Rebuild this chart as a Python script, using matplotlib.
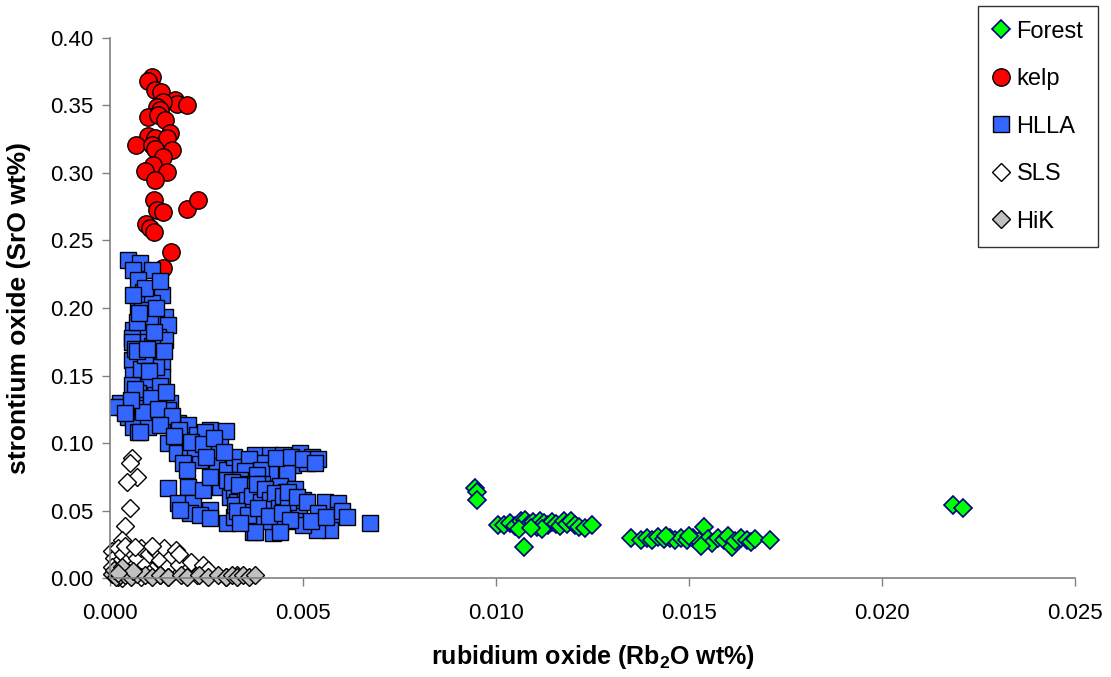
import numpy as np
from matplotlib import pyplot as plt

plt.rcParams['font.family'] = ['Liberation Sans', 'DejaVu Sans']

# ---- data (Rb2O wt%, SrO wt%) ----
forest_x = [0.00946, 0.00951, 0.00951,
            0.01005, 0.01020, 0.01035, 0.01050, 0.01065, 0.01075, 0.01085, 0.01095,
            0.01105, 0.01115, 0.01125, 0.01135, 0.01145, 0.01155, 0.01165, 0.01175,
            0.01185, 0.01195, 0.01205, 0.01215, 0.01230, 0.01250, 0.01072, 0.01060,
            0.01120, 0.01090,
            0.01350, 0.01375, 0.01390, 0.01405, 0.01420, 0.01435, 0.01450, 0.01465,
            0.01480, 0.01495, 0.01510, 0.01525, 0.01540, 0.01550, 0.01560, 0.01575,
            0.01590, 0.01600, 0.01612, 0.01620, 0.01635, 0.01650, 0.01660, 0.01670,
            0.01710, 0.01530, 0.01440, 0.01500,
            0.02185, 0.02210]
forest_y = [0.0667, 0.0640, 0.0580,
            0.0390, 0.0395, 0.0410, 0.0385, 0.0420, 0.0430, 0.0400, 0.0415,
            0.0380, 0.0420, 0.0405, 0.0390, 0.0415, 0.0400, 0.0385, 0.0420,
            0.0400, 0.0425, 0.0395, 0.0380, 0.0370, 0.0390, 0.0230, 0.0360,
            0.0360, 0.0370,
            0.0295, 0.0280, 0.0300, 0.0285, 0.0305, 0.0290, 0.0300, 0.0280,
            0.0295, 0.0285, 0.0300, 0.0275, 0.0380, 0.0290, 0.0260, 0.0300,
            0.0285, 0.0310, 0.0230, 0.0275, 0.0300, 0.0285, 0.0270, 0.0290,
            0.0285, 0.0240, 0.0310, 0.0310,
            0.0540, 0.0520]

kelp_x = [0.00108, 0.00099, 0.00117, 0.00132, 0.00168, 0.00174, 0.00199, 0.00138,
          0.00121, 0.00130, 0.00098, 0.00125, 0.00142, 0.00099, 0.00155, 0.00117,
          0.00147, 0.00067, 0.00108, 0.00117, 0.00160, 0.00138, 0.00112, 0.00091,
          0.00147, 0.00117, 0.00115, 0.00121, 0.00137, 0.00199, 0.00227, 0.00093,
          0.00104, 0.00114, 0.00157, 0.00138]
kelp_y = [0.3709, 0.3684, 0.3615, 0.3602, 0.3541, 0.3509, 0.3504, 0.3528,
          0.3491, 0.3467, 0.3412, 0.3430, 0.3393, 0.3274, 0.3294, 0.3257,
          0.3257, 0.3205, 0.3207, 0.3175, 0.3170, 0.3121, 0.3059, 0.3015,
          0.3005, 0.2948, 0.2800, 0.2726, 0.2713, 0.2731, 0.2800, 0.2620,
          0.2590, 0.2561, 0.2417, 0.2294]

hlla_x = [
    # steep limb
    0.00047, 0.00078, 0.00109, 0.00060, 0.00073, 0.00085, 0.00135, 0.00073, 0.00109,
    0.00083, 0.00142, 0.00073, 0.00104, 0.00150, 0.00060, 0.00091, 0.00124, 0.00057,
    0.00057, 0.00098, 0.00142, 0.00057, 0.00098, 0.00135, 0.00060, 0.00098, 0.00135,
    0.00057, 0.00073, 0.00117, 0.00155, 0.00034, 0.00065, 0.00109, 0.00150, 0.00047,
    0.00083, 0.00124, 0.00060, 0.00098, 0.00142, 0.00176, 0.00202, 0.00073,
    0.00065, 0.00110, 0.00080, 0.00120, 0.00070, 0.00120, 0.00090, 0.00026, 0.00018,
    0.00090, 0.00060, 0.00130, 0.00075, 0.00115, 0.00140, 0.00070, 0.00100, 0.00130,
    0.00065, 0.00105, 0.00145, 0.00085, 0.00125, 0.00055, 0.00095, 0.00040, 0.00160,
    # bend
    0.00078, 0.00130, 0.00150, 0.00189, 0.00225, 0.00259, 0.00285, 0.00174, 0.00207,
    0.00233, 0.00277, 0.00259, 0.00303, 0.00337, 0.00245, 0.00300, 0.00180, 0.00220,
    0.00190, 0.00320, 0.00165, 0.00210, 0.00240, 0.00270, 0.00295, 0.00200, 0.00250,
    # upper flat trend
    0.00376, 0.00414, 0.00448, 0.00492, 0.00523, 0.00396, 0.00433, 0.00474, 0.00510,
    0.00337, 0.00458, 0.00414, 0.00360, 0.00390, 0.00430, 0.00470, 0.00500, 0.00540,
    0.00530, 0.00350, 0.00380,
    # lower flat trend
    0.00150, 0.00202, 0.00176, 0.00215, 0.00241, 0.00285, 0.00259, 0.00303, 0.00337,
    0.00344, 0.00207, 0.00259, 0.00181, 0.00233, 0.00259, 0.00303, 0.00370, 0.00422,
    0.00311, 0.00320, 0.00330, 0.00340, 0.00350, 0.00360, 0.00365, 0.00375, 0.00385,
    0.00390, 0.00395, 0.00405, 0.00410, 0.00420, 0.00425, 0.00435, 0.00440, 0.00450,
    0.00455, 0.00465, 0.00470, 0.00480, 0.00490, 0.00500, 0.00320, 0.00345, 0.00370,
    0.00400, 0.00440, 0.00480,
    0.00315, 0.00325, 0.00335, 0.00355, 0.00368, 0.00380, 0.00392, 0.00402, 0.00415,
    0.00428, 0.00438, 0.00448, 0.00462, 0.00330, 0.00358, 0.00384, 0.00412, 0.00445,
    0.00461, 0.00484, 0.00510, 0.00557, 0.00591, 0.00591, 0.00570, 0.00536, 0.00500,
    0.00466, 0.00440, 0.00376, 0.00337, 0.00540, 0.00520, 0.00560, 0.00600, 0.00614,
    0.00673]
hlla_y = [
    0.2356, 0.2334, 0.2282, 0.2282, 0.2208, 0.2119, 0.2097, 0.2045, 0.2038,
    0.1986, 0.1934, 0.1927, 0.1897, 0.1875, 0.1838, 0.1815, 0.1786, 0.1778,
    0.1749, 0.1749, 0.1764, 0.1615, 0.1601, 0.1593, 0.1504, 0.1467, 0.1489,
    0.1430, 0.1371, 0.1356, 0.1297, 0.1267, 0.1260, 0.1260, 0.1245, 0.1193,
    0.1186, 0.1171, 0.1119, 0.1119, 0.1134, 0.1149, 0.1134, 0.1082,
    0.1700, 0.1720, 0.1550, 0.1560, 0.1900, 0.2000, 0.1650, 0.1300, 0.1270,
    0.2150, 0.2100, 0.2200, 0.1960, 0.1820, 0.1680, 0.1680, 0.1530, 0.1420,
    0.1400, 0.1330, 0.1380, 0.1230, 0.1250, 0.1320, 0.1700, 0.1220, 0.1200,
    0.1082, 0.1134, 0.1000, 0.1023, 0.1060, 0.1097, 0.1000, 0.0926, 0.0926,
    0.0874, 0.0852, 0.0948, 0.0800, 0.0852, 0.1080, 0.1090, 0.1100, 0.0960,
    0.0850, 0.0900, 0.1050, 0.1010, 0.0990, 0.1040, 0.0930, 0.0800, 0.0900,
    0.0911, 0.0911, 0.0911, 0.0926, 0.0897, 0.0852, 0.0823, 0.0837, 0.0852,
    0.0823, 0.0778, 0.0778, 0.0880, 0.0800, 0.0890, 0.0900, 0.0880, 0.0880,
    0.0850, 0.0790, 0.0760,
    0.0667, 0.0674, 0.0556, 0.0556, 0.0652, 0.0674, 0.0748, 0.0726, 0.0726,
    0.0652, 0.0482, 0.0504, 0.0504, 0.0467, 0.0445, 0.0408, 0.0341, 0.0333,
    0.0600, 0.0650, 0.0560, 0.0700, 0.0620, 0.0520, 0.0680, 0.0580, 0.0640,
    0.0480, 0.0700, 0.0550, 0.0620, 0.0660, 0.0500, 0.0590, 0.0680, 0.0540,
    0.0640, 0.0450, 0.0600, 0.0660, 0.0520, 0.0580, 0.0450, 0.0430, 0.0440,
    0.0420, 0.0400, 0.0420,
    0.0710, 0.0540, 0.0690, 0.0580, 0.0610, 0.0700, 0.0560, 0.0660, 0.0580,
    0.0630, 0.0520, 0.0610, 0.0560, 0.0500, 0.0470, 0.0520, 0.0460, 0.0480,
    0.0637, 0.0600, 0.0563, 0.0563, 0.0556, 0.0467, 0.0356, 0.0356, 0.0393,
    0.0430, 0.0341, 0.0341, 0.0408, 0.0480, 0.0420, 0.0450, 0.0500, 0.0450,
    0.0408]

sls_x = [0.00057, 0.00052, 0.00070, 0.00044, 0.00052, 0.00039, 0.00031,
         0.00005, 0.00010, 0.00015, 0.00020, 0.00030, 0.00035, 0.00045, 0.00055,
         0.00060, 0.00070, 0.00080, 0.00090, 0.00100, 0.00110, 0.00120, 0.00130,
         0.00140, 0.00150, 0.00160, 0.00170, 0.00180, 0.00195, 0.00210, 0.00225,
         0.00240, 0.00255, 0.00030, 0.00080, 0.00130, 0.00005, 0.00020, 0.00110,
         0.00040, 0.00065, 0.00100, 0.00150, 0.00180, 0.00300, 0.00330, 0.00050]
sls_y = [0.0889, 0.0852, 0.0748, 0.0711, 0.0519, 0.0385, 0.0282,
         0.020, 0.015, 0.010, 0.022, 0.005, 0.018, 0.012, 0.020,
         0.008, 0.015, 0.022, 0.010, 0.018, 0.005, 0.020, 0.013,
         0.022, 0.008, 0.016, 0.021, 0.010, 0.004, 0.012, 0.002,
         0.010, 0.006, 0.000, 0.001, 0.002, 0.008, 0.001, 0.024,
         0.024, 0.023, 0.003, 0.001, 0.018, 0.001, 0.002, 0.004]

hik_x = [0.00005, 0.00015, 0.00025, 0.00040, 0.00055, 0.00070, 0.00090, 0.00110,
         0.00130, 0.00150, 0.00185, 0.00200, 0.00230, 0.00255, 0.00280, 0.00300,
         0.00315, 0.00330, 0.00345, 0.00360, 0.00375, 0.00010, 0.00030, 0.00060,
         0.00020]
hik_y = [0.003, 0.001, 0.002, 0.002, 0.001, 0.003, 0.002, 0.001,
         0.002, 0.001, 0.002, 0.001, 0.002, 0.001, 0.002, 0.001,
         0.002, 0.001, 0.002, 0.001, 0.002, 0.006, 0.008, 0.005,
         0.004]

xticks = [0.000, 0.005, 0.010, 0.015, 0.020, 0.025]
yticks = [0.00, 0.05, 0.10, 0.15, 0.20, 0.25, 0.30, 0.35, 0.40]

# ---- figure ----
fig = plt.figure(figsize=(11.11, 6.77), dpi=100)
ax = fig.add_axes([0.099, 0.1462, 0.8686, 0.7977])

ax.plot(forest_x, forest_y, ls='none', marker='D', ms=9, mfc='#00ff00', mec='#000080',
        mew=1.2, label='Forest')
ax.plot(kelp_x, kelp_y, ls='none', marker='o', ms=12.5, mfc='#ff0000', mec='black',
        mew=1.0, label='kelp')
ax.plot(hlla_x, hlla_y, ls='none', marker='s', ms=11.5, mfc='#3366ff', mec='black',
        mew=1.0, label='HLLA')
ax.plot(sls_x, sls_y, ls='none', marker='D', ms=9, mfc='white', mec='black',
        mew=1.0, label='SLS', clip_on=False)
ax.plot(hik_x, hik_y, ls='none', marker='D', ms=9, mfc='#c0c0c0', mec='black',
        mew=1.0, label='HiK', clip_on=False)

ax.set_xlim(0, 0.025)
ax.set_ylim(0, 0.40)
ax.set_xticks(xticks)
ax.set_yticks(yticks)
ax.set_xticklabels(['%.3f' % v for v in xticks])
ax.set_yticklabels(['%.2f' % v for v in yticks])
ax.tick_params(labelsize=16, direction='out', length=6, width=1, color='#808080')
ax.tick_params(axis='x', pad=12)
ax.tick_params(axis='y', pad=6)

for s in ['top', 'right']:
    ax.spines[s].set_visible(False)
for s in ['left', 'bottom']:
    ax.spines[s].set_color('#808080')
    ax.spines[s].set_linewidth(1.2)

ax.set_xlabel('rubidium oxide (Rb$_\\mathregular{2}$O wt%)', fontsize=18, fontweight='bold',
              labelpad=14)
ax.set_ylabel('strontium oxide (SrO wt%)', fontsize=19, fontweight='bold', labelpad=14)

leg = fig.legend(loc='upper right', bbox_to_anchor=(1098 / 1111, 1 - 6 / 677), fontsize=17,
                 frameon=True, fancybox=False, edgecolor='black', handlelength=0.7,
                 handletextpad=0.3, labelspacing=1.08, borderpad=0.62, borderaxespad=0)
leg.get_frame().set_linewidth(1.0)

fig.savefig('out.png', dpi=100)
